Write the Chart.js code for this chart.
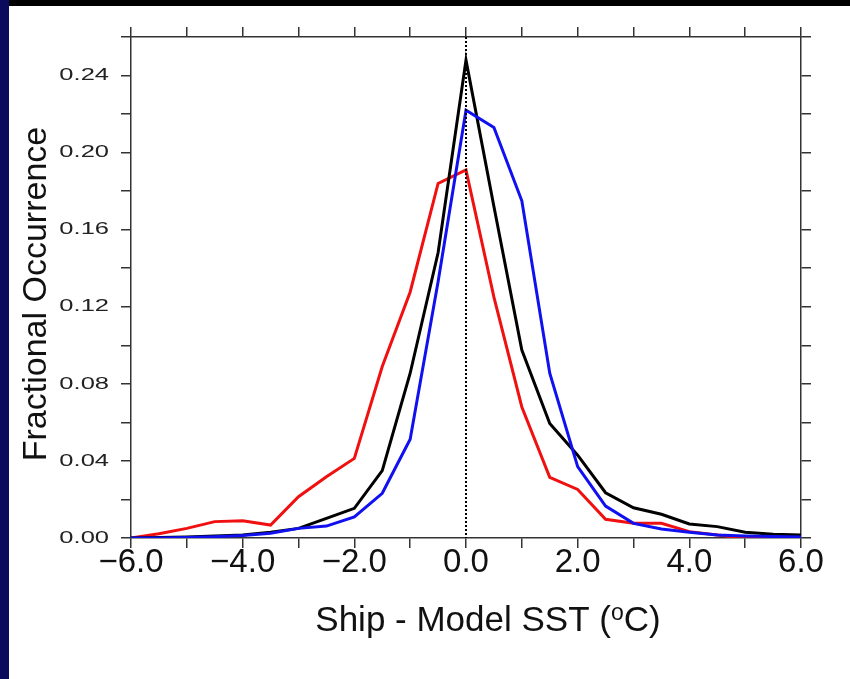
<!DOCTYPE html>
<html>
<head>
<meta charset="utf-8">
<script src="https://cdn.jsdelivr.net/npm/chart.js"></script>
<style>
  html, body { margin: 0; padding: 0; background: #fff; }
  #wrap { position: relative; width: 850px; height: 679px; overflow: hidden; }
  #topbar { position: absolute; left: 0; top: 0; width: 850px; height: 6px; background: #000; }
  #leftbar { position: absolute; left: 0; top: 0; width: 9px; height: 679px; background: #0b0b5e; }
  canvas { position: absolute; left: 0; top: 0; }
</style>
</head>
<body>
<div id="wrap">
  <canvas id="c" width="850" height="679"></canvas>
  <div id="topbar"></div>
  <div id="leftbar"></div>
</div>
<script>
var xValues = [-6, -5.5, -5, -4.5, -4, -3.5, -3, -2.5, -2, -1.5, -1, -0.5, 0, 0.5, 1, 1.5, 2, 2.5, 3, 3.5, 4, 4.5, 5, 5.5, 6];
var redValues = [0, 0.0022, 0.005, 0.0085, 0.009, 0.0067, 0.0214, 0.0318, 0.0413, 0.089, 0.1277, 0.184, 0.191, 0.125, 0.068, 0.0315, 0.0252, 0.0097, 0.0076, 0.0076, 0.0033, 0.0015, 0, 0.001, 0.0005];
var blackValues = [0, 0.0003, 0.0005, 0.001, 0.0015, 0.003, 0.005, 0.0102, 0.0154, 0.035, 0.0855, 0.148, 0.248, 0.172, 0.0975, 0.0594, 0.043, 0.0235, 0.0157, 0.0123, 0.0073, 0.0059, 0.003, 0.002, 0.0015];
var blueValues = [0, 0, 0.0003, 0.0007, 0.0013, 0.0025, 0.005, 0.0062, 0.011, 0.0232, 0.0513, 0.133, 0.222, 0.213, 0.175, 0.0855, 0.037, 0.0166, 0.0076, 0.0047, 0.003, 0.0015, 0.001, 0.0008, 0.0005];
var xTitle = ["Ship - Model SST (", "o", "C)"];
var yTitle = "Fractional Occurrence";

function pts(ys) {
  return xValues.map(function (x, i) { return { x: x, y: ys[i] }; });
}

var axisColor = "#333";
var FONT = "'Liberation Sans', Arial, Helvetica, sans-serif";

function yLabel(v) {
  return Math.round(v * 100) % 4 === 0 ? v.toFixed(2) : "";
}

// dotted zero line, stretched y tick labels, axis titles
var extras = {
  id: "extras",
  afterDatasetsDraw: function (chart) {
    var ctx = chart.ctx, a = chart.chartArea;
    var x0 = chart.scales.x.getPixelForValue(0);
    ctx.save();
    ctx.strokeStyle = "#000";
    ctx.lineWidth = 2;
    ctx.setLineDash([2, 2]);
    ctx.beginPath();
    ctx.moveTo(x0, a.top);
    ctx.lineTo(x0, a.bottom);
    ctx.stroke();
    ctx.restore();
  },
  afterDraw: function (chart) {
    var ctx = chart.ctx;
    var ys = chart.scales.y;
    ctx.save();
    ctx.fillStyle = "#222";
    ctx.font = "17px " + FONT;
    ctx.textAlign = "right";
    ctx.textBaseline = "middle";
    ys.ticks.forEach(function (t) {
      var s = yLabel(t.value);
      if (!s) return;
      ctx.save();
      ctx.translate(109, ys.getPixelForValue(t.value));
      ctx.scale(1.5, 1);
      ctx.fillText(s, 0, 0);
      ctx.restore();
    });
    ctx.restore();

    // y title
    ctx.save();
    ctx.fillStyle = "#111";
    ctx.font = "34px " + FONT;
    ctx.textAlign = "center";
    ctx.textBaseline = "middle";
    ctx.translate(37, 294);
    ctx.rotate(-Math.PI / 2);
    ctx.fillText(yTitle, 0, 0);
    ctx.restore();

    // x title
    ctx.save();
    ctx.fillStyle = "#111";
    ctx.textBaseline = "alphabetic";
    var big = "35px " + FONT, small = "23px " + FONT;
    ctx.font = big;
    var w1 = ctx.measureText(xTitle[0]).width;
    var w3 = ctx.measureText(xTitle[2]).width;
    ctx.font = small;
    var w2 = ctx.measureText(xTitle[1]).width;
    var total = w1 + w2 + w3;
    var cx = 488, base = 631;
    var x = cx - total / 2;
    ctx.font = big;
    ctx.fillText(xTitle[0], x, base);
    ctx.font = small;
    ctx.fillText(xTitle[1], x + w1, base - 11);
    ctx.font = big;
    ctx.fillText(xTitle[2], x + w1 + w2, base);
    ctx.restore();
  }
};

function gridOpts() {
  return { drawOnChartArea: false, drawTicks: true, tickLength: 10, color: axisColor, lineWidth: 1.5 };
}
function borderOpts() {
  return { display: true, color: axisColor, width: 1.5 };
}

new Chart(document.getElementById("c"), {
  type: "line",
  data: {
    datasets: [
      { label: "blue", data: pts(blueValues), borderColor: "#1010f0", borderWidth: 3 },
      { label: "black", data: pts(blackValues), borderColor: "#000", borderWidth: 3 },
      { label: "red", data: pts(redValues), borderColor: "#f01010", borderWidth: 3 }
    ]
  },
  options: {
    responsive: false,
    devicePixelRatio: 1,
    animation: false,
    layout: { padding: 0 },
    elements: { point: { radius: 0 }, line: { tension: 0, fill: false, borderJoinStyle: "miter" } },
    plugins: { legend: { display: false }, tooltip: { enabled: false } },
    scales: {
      x: {
        type: "linear", position: "bottom", min: -6, max: 6,
        afterFit: function (s) { s.height = 141; },
        grid: gridOpts(), border: borderOpts(),
        ticks: {
          stepSize: 1, autoSkip: false, maxRotation: 0, padding: -5, color: "#111",
          font: { family: FONT, size: 33 },
          callback: function (v) {
            if (Math.round(v) % 2 !== 0) return "";
            return (v < 0 ? "\u2212" : "") + Math.abs(v).toFixed(1);
          }
        }
      },
      x2: {
        type: "linear", position: "top", min: -6, max: 6,
        afterFit: function (s) { s.height = 37; },
        grid: gridOpts(), border: borderOpts(),
        ticks: { stepSize: 1, autoSkip: false, maxRotation: 0, callback: function () { return ""; } }
      },
      y: {
        type: "linear", position: "left", min: 0, max: 0.26,
        afterFit: function (s) { s.width = 131; },
        grid: gridOpts(), border: borderOpts(),
        ticks: { stepSize: 0.02, autoSkip: false, callback: function () { return ""; } }
      },
      y2: {
        type: "linear", position: "right", min: 0, max: 0.26,
        afterFit: function (s) { s.width = 49; },
        grid: gridOpts(), border: borderOpts(),
        ticks: { stepSize: 0.02, autoSkip: false, callback: function () { return ""; } }
      }
    }
  },
  plugins: [extras]
});
</script>
</body>
</html>
